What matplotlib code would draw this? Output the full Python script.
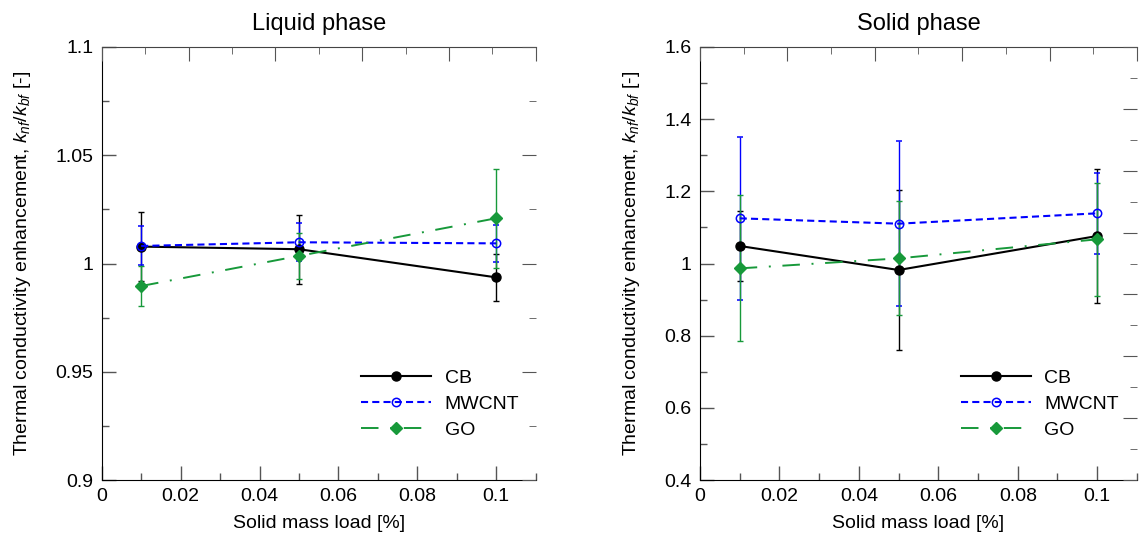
import matplotlib
matplotlib.use("Agg")
import matplotlib.pyplot as plt
from matplotlib.ticker import MultipleLocator, FuncFormatter

plt.rcParams['font.family'] = ['Liberation Sans', 'DejaVu Sans']
plt.rcParams['mathtext.fontset'] = 'custom'
plt.rcParams['mathtext.it'] = 'Liberation Sans:italic'
plt.rcParams['mathtext.rm'] = 'Liberation Sans'

# ── Data ─────────────────────────────────────────────────────────────────────
load = [0.01, 0.05, 0.1]
names = ['CB', 'MWCNT', 'GO']

liq_cb = [1.0078, 1.0066, 0.9936]
liq_cb_err = [0.016, 0.016, 0.0108]
liq_mw = [1.0081, 1.0098, 1.0093]
liq_mw_err = [0.009, 0.0087, 0.0087]
liq_go = [0.9896, 1.0035, 1.0209]
liq_go_err = [0.0092, 0.0107, 0.0228]

sol_cb = [1.0485, 0.982, 1.0762]
sol_cb_err = [0.097, 0.221, 0.185]
sol_mw = [1.1251, 1.1103, 1.139]
sol_mw_err = [0.225, 0.229, 0.113]
sol_go = [0.9865, 1.0142, 1.067]
sol_go_err = [0.202, 0.158, 0.156]

GREEN = '#17993a'
TICK_COL = '#555555'
FS = 14

fmt = FuncFormatter(lambda v, p: '%g' % round(v, 6))


def draw(ax, cb, cbe, mw, mwe, go, goe):
    h1 = ax.errorbar(load, cb, yerr=cbe, color='black', ls='-', lw=1.5,
                     marker='o', ms=6.5, capsize=2.5, elinewidth=1)
    h2 = ax.errorbar(load, mw, yerr=mwe, color='blue', ls=(0, (3.4, 2)),
                     lw=1.5, marker='o', ms=6, mfc='none', mew=1.1,
                     capsize=2.5, elinewidth=1)
    h3 = ax.errorbar(load, go, yerr=goe, color=GREEN, ls=(0, (9, 6, 1, 6)),
                     lw=1.4, marker='D', ms=6, capsize=2.5, elinewidth=1)
    return [h1[0], h2[0], h3[0]]


def style(ax, handles, title, ylim, ymaj, ymin, twin_range):
    ax.set_xlim(0, 0.11)
    ax.set_ylim(*ylim)
    ax.xaxis.set_major_locator(MultipleLocator(0.02))
    ax.xaxis.set_minor_locator(MultipleLocator(0.01))
    ax.yaxis.set_major_locator(MultipleLocator(ymaj))
    ax.yaxis.set_minor_locator(MultipleLocator(ymin))
    ax.xaxis.set_major_formatter(fmt)
    ax.yaxis.set_major_formatter(fmt)
    ax.tick_params(which='both', direction='in', color=TICK_COL,
                   labelsize=FS, width=1)
    ax.tick_params(which='major', length=10, pad=6)
    ax.tick_params(which='minor', length=5)
    ax.spines['right'].set_visible(False)
    ax.spines['top'].set_color('#444444')
    ax.set_title(title, fontsize=17, pad=12)
    ax.set_xlabel('Solid mass load [%]', fontsize=FS, labelpad=7)
    ax.set_ylabel('Thermal conductivity enhancement, $k_{nf}/k_{bf}$ [-]',
                  fontsize=FS, labelpad=16)

    top = ax.twiny()
    top.set_xlim(0, 1)
    top.xaxis.set_major_locator(MultipleLocator(0.2))
    top.xaxis.set_minor_locator(MultipleLocator(0.1))
    top.tick_params(which='both', direction='in', color=TICK_COL,
                    labeltop=False)
    top.tick_params(which='major', length=10)
    top.tick_params(which='minor', length=5)
    for s in top.spines.values():
        s.set_visible(False)

    rt = ax.twinx()
    rt.set_ylim(0, twin_range)
    rt.yaxis.set_major_locator(MultipleLocator(1))
    rt.yaxis.set_minor_locator(MultipleLocator(0.5))
    rt.tick_params(which='both', direction='in', color=TICK_COL,
                   labelright=False)
    rt.tick_params(which='major', length=10)
    rt.tick_params(which='minor', length=5)
    for s in rt.spines.values():
        s.set_visible(False)

    ax.legend(handles, names, loc='lower left', bbox_to_anchor=(0.557, 0.054),
              frameon=False, fontsize=FS, handlelength=3.6, handletextpad=0.7,
              labelspacing=0.45)


fig = plt.figure(figsize=(11.44, 5.45), dpi=100)
ax1 = fig.add_axes([0.0889, 0.119, 0.3794, 0.795])
ax2 = fig.add_axes([0.6119, 0.119, 0.3819, 0.795])

hs = draw(ax1, liq_cb, liq_cb_err, liq_mw, liq_mw_err, liq_go, liq_go_err)
style(ax1, hs, 'Liquid phase', (0.9, 1.1), 0.05, 0.025, 4)

hs = draw(ax2, sol_cb, sol_cb_err, sol_mw, sol_mw_err, sol_go, sol_go_err)
style(ax2, hs, 'Solid phase', (0.4, 1.6), 0.2, 0.1, 7)

fig.savefig('out.png', dpi=100)
